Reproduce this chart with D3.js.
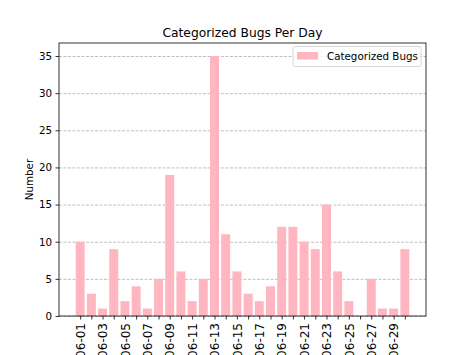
<!DOCTYPE html>
<html>
<head>
<meta charset="utf-8">
<script src="https://cdn.jsdelivr.net/npm/d3@7"></script>
<style>
  body { margin: 0; background: #fff; }
  svg { display: block; font-family: "DejaVu Sans", sans-serif; }
</style>
</head>
<body>
<svg id="chart" width="474" height="355"></svg>
<script>
const days = ["06-01","06-02","06-03","06-04","06-05","06-06","06-07","06-08","06-09","06-10",
              "06-11","06-12","06-13","06-14","06-15","06-16","06-17","06-18","06-19","06-20",
              "06-21","06-22","06-23","06-24","06-25","06-26","06-27","06-28","06-29","06-30"];
const bugs = [10,3,1,9,2,4,1,5,19,6,2,5,35,11,6,3,2,4,12,12,10,9,15,6,2,0,5,1,1,9];
const yTicks = [0,5,10,15,20,25,30,35];
const seriesName = "Categorized Bugs";
const titleText = "Categorized Bugs Per Day";
const yLabel = "Number";

const svg = d3.select("#chart");
const L = 59, R = 426, T = 43, B = 316;
const n = days.length;
const pad = 0.05 * ((n - 1 + 0.4) - (-0.4));
const x = d3.scaleLinear().domain([-0.4 - pad, n - 1 + 0.4 + pad]).range([L, R]);
const y = d3.scaleLinear().domain([0, 35 * 1.05]).range([B, T]);

// grid
svg.append("g").selectAll("line").data(yTicks).join("line")
  .attr("x1", L).attr("x2", R)
  .attr("y1", d => y(d) + 0.5).attr("y2", d => y(d) + 0.5)
  .attr("stroke", "#b0b0b0").attr("stroke-width", 0.8)
  .attr("stroke-dasharray", "3,1.5");

// bars
svg.append("g").selectAll("rect").data(bugs).join("rect")
  .attr("x", (d, i) => x(i - 0.4))
  .attr("width", (d, i) => x(i + 0.4) - x(i - 0.4))
  .attr("y", d => y(d))
  .attr("height", d => B - y(d))
  .attr("fill", "#ffb6c1");

// axes
const xAxis = d3.axisBottom(x)
  .tickValues(d3.range(n))
  .tickFormat(i => i % 2 === 0 ? days[i] : "")
  .tickSize(3.5).tickPadding(3.5);
const gx = svg.append("g").attr("transform", `translate(0,${B})`).call(xAxis);
gx.select(".domain").remove();
gx.selectAll("line").attr("stroke", "#000").attr("stroke-width", 0.8);
gx.selectAll("text")
  .attr("font-size", 12).attr("fill", "#000")
  .attr("font-family", "DejaVu Sans")
  .attr("transform", "rotate(-90)")
  .attr("text-anchor", "end")
  .attr("x", -7).attr("y", 0).attr("dy", "0.35em");

const yAxis = d3.axisLeft(y).tickValues(yTicks).tickSize(3.5).tickPadding(3.5);
const gy = svg.append("g").attr("transform", `translate(${L},0)`).call(yAxis);
gy.select(".domain").remove();
gy.selectAll("line").attr("stroke", "#000").attr("stroke-width", 0.8);
gy.selectAll("text").attr("font-size", 10.3).attr("fill", "#000").attr("font-family", "DejaVu Sans");

// frame
svg.append("rect").attr("x", L).attr("y", T).attr("width", R - L).attr("height", B - T)
  .attr("fill", "none").attr("stroke", "#000").attr("stroke-width", 0.8);

// title
svg.append("text").attr("x", (L + R) / 2).attr("y", 37)
  .attr("text-anchor", "middle").attr("font-size", 12.3).attr("fill", "#000")
  .text(titleText);

// y label
svg.append("text").attr("transform", `translate(33,${(T + B) / 2}) rotate(-90)`)
  .attr("text-anchor", "middle").attr("font-size", 10.3).attr("fill", "#000")
  .text(yLabel);

// legend
const lg = svg.append("g");
lg.append("rect").attr("x", 293).attr("y", 46.5).attr("width", 128).attr("height", 20)
  .attr("rx", 2).attr("fill", "#fff").attr("fill-opacity", 0.8)
  .attr("stroke", "#cccccc").attr("stroke-width", 0.8);
lg.append("rect").attr("x", 297).attr("y", 52).attr("width", 21).attr("height", 7.5)
  .attr("fill", "#ffb6c1");
lg.append("text").attr("x", 327).attr("y", 60).attr("font-size", 10.3).attr("fill", "#000")
  .text(seriesName);
</script>
</body>
</html>
